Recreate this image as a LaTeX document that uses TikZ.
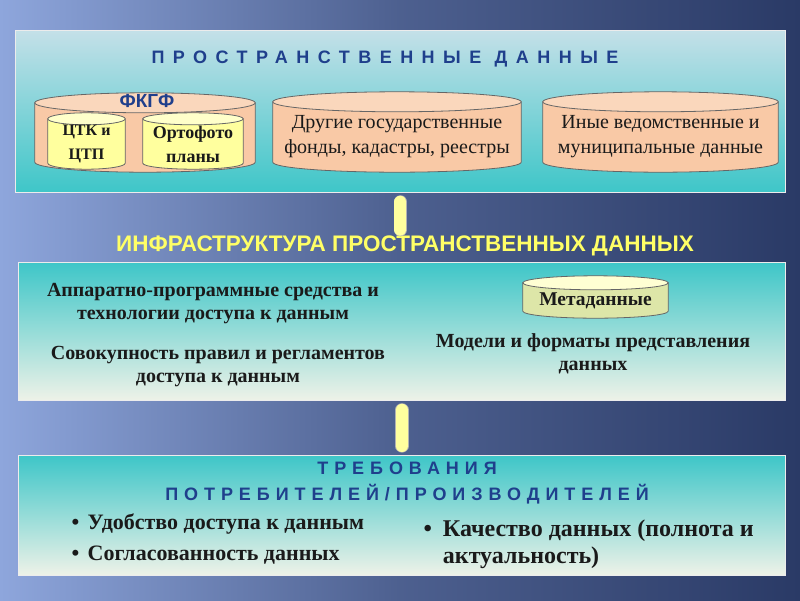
\documentclass[tikz,border=0pt]{standalone}
\usepackage{fontspec}
\setmainfont{Liberation Serif}
\newfontfamily\spacedfont[LetterSpace=47]{Liberation Sans}
\newfontfamily\reqfont[LetterSpace=33]{Liberation Sans}
\newfontfamily\headfont{Liberation Sans}
\usetikzlibrary{positioning,shapes.geometric,backgrounds,calc}
\pgfdeclarelayer{back}
\pgfdeclarelayer{mid}
\pgfsetlayers{back,mid,main}
\definecolor{bgdark}{HTML}{2A3A66}
\definecolor{bglight}{HTML}{8EA6DC}
\definecolor{panelteal}{HTML}{3EC6C8}
\definecolor{panellight}{HTML}{C4E0E8}
\definecolor{panelpale}{HTML}{EEF2E8}
\definecolor{peach}{HTML}{F9C9A6}
\definecolor{paleyellow}{HTML}{FFFF9E}
\definecolor{metafill}{HTML}{DDE6A8}
\definecolor{titleblue}{HTML}{1F3F8C}
\definecolor{titleyellow}{HTML}{FFFF66}
\definecolor{textdark}{HTML}{1A1A1A}
\tikzset{%
panel/.style={draw=white!85!gray,line width=0.8pt,rectangle,inner sep=0,anchor=north west},
bigtitle/.style={font=\spacedfont\bfseries\fontsize{18}{26}\selectfont,text=titleblue,align=center},
cylbody/.style={rectangle,inner sep=0,align=center,text=textdark},
cylline/.style={draw=black!60,line width=0.8pt},
cyltext/.style={font=\fontsize{20}{25}\selectfont},
boldtext/.style={font=\bfseries\fontsize{20}{23}\selectfont,text=textdark,align=center},
item/.style={font=\bfseries\fontsize{22}{31}\selectfont,text=textdark,align=left,anchor=west},
bar/.style={draw=black!30,double=paleyellow,double distance=12pt,line width=0.6pt,line cap=round}
}
% body, top ellipse of a drum round a named node
\newcommand\cylpaint[4]{%
  \path[cylline,fill=#2] let \p1=($(#1.north east)-(#1.north west)$) in
    (#1.north west) -- ([yshift=#4]#1.south west)
    arc[start angle=180,end angle=360,x radius={0.5*\x1},y radius=#4]
    -- (#1.north east) -- cycle;
  \path[cylline,fill=#3] let \p1=($(#1.north east)-(#1.north west)$) in
    (#1.north) ellipse[x radius={0.5*\x1},y radius=#4];
}
\begin{document}
\begin{tikzpicture}[x=1pt,y=-1pt]
\useasboundingbox (0,0) rectangle (800,600);
\begin{pgfonlayer}{back}
\fill[left color=bglight,right color=bgdark,middle color=bgdark!65!bglight] (0,0) rectangle (800,600);
\node[panel,minimum width=770pt,minimum height=162pt,top color=panellight,bottom color=panelteal] (spatial) at (15,30) {};
\node[panel,minimum width=767pt,minimum height=138pt,top color=panelteal,bottom color=panelpale] (infrapanel) at (18,262) {};
\node[panel,minimum width=767pt,minimum height=120pt,top color=panelteal,bottom color=panelpale] (reqpanel) at (18,455) {};
\end{pgfonlayer}

% spatial data
\node[bigtitle] (spatialtitle) at (385,59) {ПРОСТРАНСТВЕННЫЕ ДАННЫЕ};
\node[cylbody,minimum width=220pt,minimum height=69pt] (fkgf) at (145,137.5) {};
\node[font=\headfont\bfseries\fontsize{19}{22}\selectfont,text=titleblue,inner sep=0] (fkgflabel) at (147,101) {ФКГФ};
\node[cylbody,minimum width=77pt,minimum height=50pt,font=\bfseries\fontsize{16}{24}\selectfont] (ctk) at (86.5,144) {ЦТК и\\ЦТП};
\node[cylbody,minimum width=100pt,minimum height=50pt,font=\bfseries\fontsize{18}{24}\selectfont] (ortho) at (193,144) {Ортофото\\планы};
\node[cylbody,cyltext,minimum width=248pt,minimum height=70pt] (state) at (397,137) {Другие государственные\\фонды, кадастры, реестры};
\node[cylbody,cyltext,minimum width=235pt,minimum height=70pt] (other) at (660.5,137) {Иные ведомственные и\\муниципальные данные};

% infrastructure
\node[font=\headfont\bfseries\fontsize{22.5}{26}\selectfont,text=titleyellow,inner sep=0] (infra) at (405,246) {ИНФРАСТРУКТУРА ПРОСТРАНСТВЕННЫХ ДАННЫХ};
\node[boldtext] (hardware) at (213,304) {Аппаратно-программные средства и\\технологии доступа к данным};
\node[boldtext] (rules) at (218,367) {Совокупность правил и регламентов\\доступа к данным};
\node[cylbody,boldtext,font=\bfseries\fontsize{19.5}{23}\selectfont,minimum width=145pt,minimum height=35pt] (meta) at (595.5,300.5) {Метаданные};
\node[boldtext] (models) at (593,354) {Модели и форматы представления\\данных};

% requirements
\node[bigtitle,font=\reqfont\bfseries\fontsize{18}{26}\selectfont] (reqtitle) at (407,483) {ТРЕБОВАНИЯ\\ПОТРЕБИТЕЛЕЙ/ПРОИЗВОДИТЕЛЕЙ};
\node[item] (access) at (68,539.5) {•\hspace{3pt} Удобство доступа к данным\\•\hspace{3pt} Согласованность данных};
\node[item,font=\bfseries\fontsize{24}{27}\selectfont] (quality) at (420,544) {•\hspace{5pt} Качество данных (полнота и\\\hphantom{•\hspace{5pt} }актуальность)};

% drums
\begin{pgfonlayer}{mid}
\cylpaint{fkgf}{peach}{peach!75!white}{10pt}
\cylpaint{ctk}{paleyellow}{paleyellow!55!white}{6pt}
\cylpaint{ortho}{paleyellow}{paleyellow!55!white}{6pt}
\cylpaint{state}{peach}{peach!75!white}{10pt}
\cylpaint{other}{peach}{peach!75!white}{10pt}
\cylpaint{meta}{metafill}{paleyellow!45!white}{7pt}
\end{pgfonlayer}

% connecting bars
\draw[bar] ([yshift=-9pt]spatial.south) -- ([yshift=6pt]spatial.south |- infra.north);
\draw[bar] ([yshift=-9pt]infrapanel.south) -- ([yshift=9pt]infrapanel.south |- reqpanel.north);
\end{tikzpicture}
\end{document}
